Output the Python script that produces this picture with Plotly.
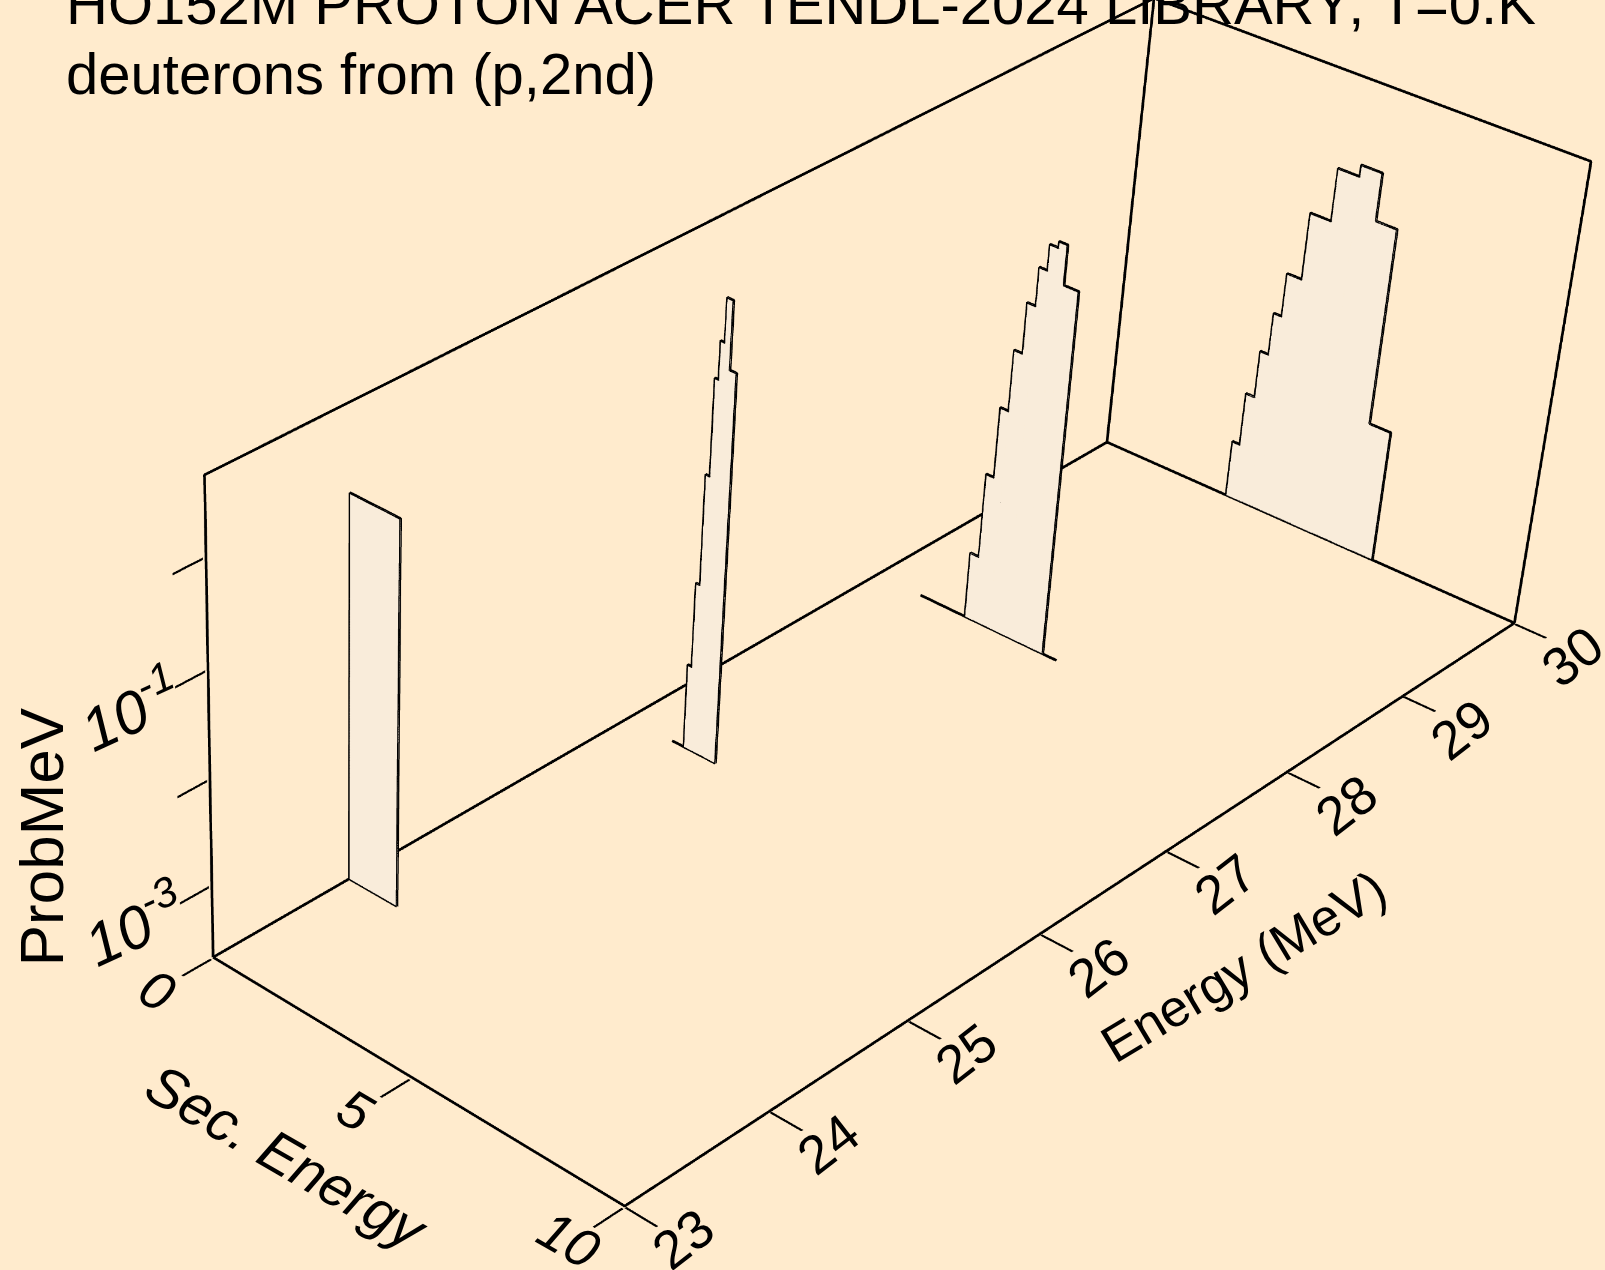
import math
import plotly.graph_objects as go

# ---------- data ----------
TITLE_1 = "HO152M PROTON ACER TENDL-2024 LIBRARY; T=0.K"
TITLE_2 = "deuterons from (p,2nd)"

incident_energy = [23.94, 26.0, 28.0, 30.0]
bin_edges = [
    [0.0, 1.23],
    [1.42, 1.52, 1.62, 1.72, 1.81, 1.91, 2.06, 2.22],
    [2.24, 2.45, 2.64, 2.84, 3.04, 3.24, 3.43, 3.63, 3.83, 4.18],
    [3.05, 3.23, 3.44, 3.64, 3.83, 4.18, 4.67, 5.17, 5.66, 6.15, 6.65],
]
prob_per_mev = [
    [0.832],
    [1.35e-3, 8.7e-3, 0.0955, 0.76, 1.70, 4.27, 1.02],
    [9.12e-4, 6.03e-3, 0.0288, 0.110, 0.331, 0.759, 1.32, 1.51, 0.646],
    [7.41e-4, 2.45e-3, 7.08e-3, 0.0182, 0.0479, 0.209, 0.661, 0.851, 0.302, 3.98e-3],
]
zero_run = [None, (1.12, 2.22), (1.11, 4.52), None]

sec_ticks = [0, 5, 10]
energy_ticks = [23, 24, 25, 26, 27, 28, 29, 30]
prob_ticks = [1e-3, 1e-2, 1e-1, 1]
prob_labels = {1e-3: "<i>10<sup>-3</sup></i>", 1e-1: "<i>10<sup>-1</sup></i>"}

SEC_RANGE = [0, 10]
ENERGY_RANGE = [23, 30]
LOG_PROB_RANGE = [-3.685, 0.715]

# ---------- style ----------
BG = "#FFEBCD"
FILL = "#F9ECDA"
FONT = "Liberation Sans"
LW = 4.5
TICK_SIZE = 54
PAD = 0.002  # the axis box is a hair larger than the frame, so frame lines are not clipped

# view: the plot is drawn in an enlarged canvas so that its lens matches the reference
CANVAS_W, CANVAS_H = 2930, 4080
OFFSET_X, OFFSET_Y = -1324, -1097

pz_lo, pz_hi = 10 ** LOG_PROB_RANGE[0], 10 ** LOG_PROB_RANGE[1]
s0, s1 = SEC_RANGE
e0, e1 = ENERGY_RANGE

fig = go.Figure()


def padded(r):
    d = (r[1] - r[0]) * PAD
    return [r[0] - d, r[1] + d]


def line(xs, ys, zs):
    fig.add_trace(go.Scatter3d(x=xs, y=ys, z=zs, mode="lines",
                               line=dict(color="black", width=LW),
                               hoverinfo="skip", showlegend=False))


# frame
line([s0, s1, s1, s0, s0], [e0, e0, e1, e1, e0], [pz_lo] * 5)
line([s0, s0, s0, s0], [e0, e0, e1, e1], [pz_lo, pz_hi, pz_hi, pz_lo])
line([s0, s1, s1], [e1, e1, e1], [pz_hi, pz_hi, pz_lo])

# spectra
for E, edges, vals, run in zip(incident_energy, bin_edges, prob_per_mev, zero_run):
    xs, zs, ii, jj, kk = [], [], [], [], []
    for n, v in enumerate(vals):
        b = len(xs)
        xs += [edges[n], edges[n + 1], edges[n + 1], edges[n]]
        zs += [pz_lo, pz_lo, v, v]
        ii += [b, b]
        jj += [b + 1, b + 2]
        kk += [b + 2, b + 3]
    fig.add_trace(go.Mesh3d(x=xs, y=[E] * len(xs), z=zs, i=ii, j=jj, k=kk, color=FILL,
                            flatshading=True, hoverinfo="skip", showlegend=False,
                            lighting=dict(ambient=1, diffuse=0, specular=0, fresnel=0, roughness=1)))
    ox, oz = [edges[0]], [pz_lo]
    for n, v in enumerate(vals):
        ox += [edges[n], edges[n + 1]]
        oz += [v, v]
    ox.append(edges[-1])
    oz.append(pz_lo)
    line(ox, [E] * len(ox), oz)
    a, b = run if run else (edges[0], edges[-1])
    line([a, b], [E, E], [pz_lo, pz_lo])


def note(text, x, y, z, dx, dy, angle, size=TICK_SIZE):
    return dict(text=text, x=x, y=y, z=z, xshift=dx, yshift=-dy, textangle=angle,
                showarrow=False, xanchor="center", yanchor="middle",
                font=dict(family=FONT, size=size, color="black"))


notes = []
for v in sec_ticks:
    notes.append(note(f"<i>{v}</i>", v, e0, LOG_PROB_RANGE[0], -56, 33, 30))
for v in energy_ticks:
    notes.append(note(str(v), s1, v, LOG_PROB_RANGE[0], 58, 33, -38))
for v, t in prob_labels.items():
    notes.append(note(t, s0, e0, math.log10(v), -78, 37, -25, 60))
notes.append(note("<i>Sec. Energy</i>", 5, e0, LOG_PROB_RANGE[0], -125, 80, 30, 57))
notes.append(note("Energy (MeV)", s1, 27, LOG_PROB_RANGE[0], 77, 115, -31, 52))
notes.append(note("ProbMeV", s0, e0, -2, -169, 56, -90, 62))


def axis(rng, vals, kind="linear"):
    return dict(type=kind, range=padded(rng), tickmode="array", tickvals=vals,
                ticktext=[""] * len(vals), showticklabels=False, ticks="outside", ticklen=27,
                tickwidth=4, tickcolor="black", showgrid=False, zeroline=False,
                showline=False, showbackground=False, showspikes=False, title=dict(text=""))


paper = lambda px, py: dict(x=(px - OFFSET_X) / CANVAS_W, y=1 - (py - OFFSET_Y) / CANVAS_H)
titles = [
    dict(text=TITLE_1, **paper(64, 4), xref="paper", yref="paper", xanchor="left", yanchor="middle",
         showarrow=False, font=dict(family=FONT, size=58, color="black")),
    dict(text=TITLE_2, **paper(64, 73), xref="paper", yref="paper", xanchor="left", yanchor="middle",
         showarrow=False, font=dict(family=FONT, size=58, color="black")),
]

k = 1 + 2 * PAD
fig.update_layout(
    width=CANVAS_W, height=CANVAS_H, margin=dict(l=0, r=0, t=0, b=0, pad=0),
    paper_bgcolor=BG, plot_bgcolor=BG, showlegend=False, annotations=titles,
    scene=dict(
        bgcolor=BG, domain=dict(x=[0, 1], y=[0, 1]), dragmode="orbit",
        aspectmode="manual", aspectratio=dict(x=k, y=2.5819 * k, z=1.0051 * k),
        camera=dict(eye=dict(x=4.7299, y=-6.1926, z=4.7333),
                    center=dict(x=-0.673, y=-1.3087, z=-0.5507),
                    up=dict(x=0.0115, y=0.0178, z=0.9058),
                    projection=dict(type="perspective")),
        xaxis=axis(SEC_RANGE, sec_ticks),
        yaxis=axis(ENERGY_RANGE, energy_ticks),
        zaxis=axis(LOG_PROB_RANGE, prob_ticks, "log"),
        annotations=notes,
    ),
)

post = f"""
var g=document.querySelector('.plotly-graph-div');
g.style.position='absolute';g.style.left='{OFFSET_X}px';g.style.top='{OFFSET_Y}px';
document.documentElement.style.overflow='hidden';document.body.style.overflow='hidden';
document.documentElement.style.background='{BG}';document.body.style.margin='0';
"""
fig.write_html("out.html", post_script=post, config=dict(displayModeBar=False),
               default_width=f"{CANVAS_W}px", default_height=f"{CANVAS_H}px")
